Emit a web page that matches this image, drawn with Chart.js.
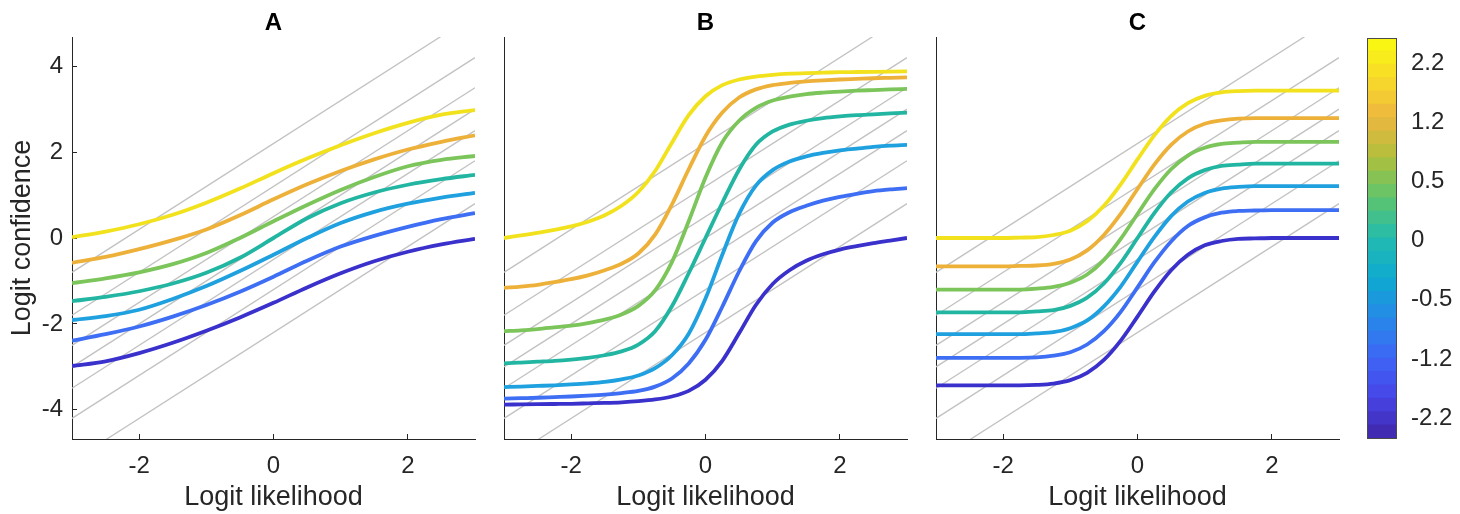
<!DOCTYPE html>
<html>
<head>
<meta charset="utf-8">
<script src="https://cdn.jsdelivr.net/npm/chart.js@4.4.1/dist/chart.umd.min.js"></script>
<style>
  body { margin: 0; background: #fff; }
  #wrap { position: relative; width: 1460px; height: 514px; overflow: hidden; }
  canvas { position: absolute; top: 0; }
</style>
</head>
<body>
<div id="wrap">
  <canvas id="panelA" width="490" height="514" style="left:0px"></canvas>
  <canvas id="panelB" width="430" height="514" style="left:490px"></canvas>
  <canvas id="panelC" width="425" height="514" style="left:920px"></canvas>
  <canvas id="colorbar" width="115" height="514" style="left:1345px"></canvas>
</div>
<script>
// ---------- data ----------
const xsA = [-3, -2.5, -2, -1.5, -1, -0.5, 0, 0.5, 1, 1.5, 2, 2.5, 3];
const xsBC = [-3, -2.75, -2.5, -2.25, -2, -1.75, -1.5, -1.25, -1, -0.75, -0.5, -0.25, 0,
              0.25, 0.5, 0.75, 1, 1.25, 1.5, 1.75, 2, 2.25, 2.5, 2.75, 3];
const biases = [2.2, 1.2, 0.5, 0, -0.5, -1.2, -2.2];
const xTicks = [-2, 0, 2];
const yTicks = [-4, -2, 0, 2, 4];
const panelTitles = ['A', 'B', 'C'];

// grey guide lines (y = x + bias), y at x = -3 and at x = 3
const guideStart = [-0.8, -1.8, -2.5, -3, -3.5, -4.2, -5.2];
const guideEnd = [5.2, 4.2, 3.5, 3, 2.5, 1.8, 0.8];

// panel A
const panelA_b22  = [0.02, 0.15, 0.32, 0.54, 0.82, 1.15, 1.51, 1.85, 2.16, 2.44, 2.68, 2.87, 2.98];
const panelA_b12  = [-0.58, -0.44, -0.26, -0.05, 0.20, 0.53, 0.90, 1.25, 1.56, 1.83, 2.06, 2.24, 2.39];
const panelA_b05  = [-1.05, -0.94, -0.80, -0.61, -0.35, 0.00, 0.39, 0.77, 1.12, 1.42, 1.67, 1.82, 1.91];
const panelA_b0   = [-1.47, -1.37, -1.24, -1.06, -0.81, -0.46, 0, 0.46, 0.81, 1.06, 1.24, 1.37, 1.47];
const panelA_bm05 = [-1.91, -1.82, -1.67, -1.42, -1.12, -0.77, -0.39, 0.00, 0.35, 0.61, 0.80, 0.94, 1.05];
const panelA_bm12 = [-2.39, -2.24, -2.06, -1.83, -1.56, -1.25, -0.90, -0.53, -0.20, 0.05, 0.26, 0.44, 0.58];
const panelA_bm22 = [-2.98, -2.87, -2.68, -2.44, -2.16, -1.85, -1.51, -1.15, -0.82, -0.54, -0.32, -0.15, -0.02];

// panel B
const panelB_b22  = [0.00, 0.06, 0.12, 0.19, 0.27, 0.38, 0.53, 0.75, 1.07, 1.56, 2.22, 2.86, 3.30,
                     3.56, 3.69, 3.76, 3.80, 3.825, 3.84, 3.85, 3.86, 3.865, 3.87, 3.875, 3.88];
const panelB_b12  = [-1.16, -1.13, -1.09, -1.03, -0.96, -0.87, -0.75, -0.60, -0.36, 0.08, 0.78, 1.60, 2.37,
                     2.92, 3.27, 3.46, 3.56, 3.61, 3.645, 3.67, 3.69, 3.705, 3.72, 3.73, 3.74];
const panelB_b05  = [-2.17, -2.15, -2.12, -2.08, -2.04, -1.98, -1.90, -1.78, -1.58, -1.22, -0.56, 0.39, 1.41,
                     2.23, 2.73, 3.03, 3.20, 3.29, 3.35, 3.385, 3.41, 3.43, 3.445, 3.46, 3.47];
const panelB_b0   = [-2.92, -2.90, -2.88, -2.86, -2.83, -2.79, -2.73, -2.64, -2.48, -2.17, -1.59, -0.82, 0,
                     0.82, 1.59, 2.17, 2.48, 2.64, 2.73, 2.79, 2.83, 2.86, 2.88, 2.90, 2.92];
const panelB_bm05 = [-3.47, -3.46, -3.445, -3.43, -3.41, -3.385, -3.35, -3.29, -3.20, -3.03, -2.73, -2.23, -1.41,
                     -0.39, 0.56, 1.22, 1.58, 1.78, 1.90, 1.98, 2.04, 2.08, 2.12, 2.15, 2.17];
const panelB_bm12 = [-3.74, -3.73, -3.72, -3.705, -3.69, -3.67, -3.645, -3.61, -3.56, -3.46, -3.27, -2.92, -2.37,
                     -1.60, -0.78, -0.08, 0.36, 0.60, 0.75, 0.87, 0.96, 1.03, 1.09, 1.13, 1.16];
const panelB_bm22 = [-3.88, -3.875, -3.87, -3.865, -3.86, -3.85, -3.84, -3.825, -3.80, -3.76, -3.69, -3.56, -3.30,
                     -2.86, -2.22, -1.56, -1.07, -0.75, -0.53, -0.38, -0.27, -0.19, -0.12, -0.06, 0.00];

// panel C
const panelC_b22  = [0, 0, 0, 0, 0, 0.01, 0.02, 0.07, 0.17, 0.39, 0.75, 1.25, 1.83,
                     2.39, 2.84, 3.14, 3.31, 3.39, 3.42, 3.43, 3.43, 3.43, 3.43, 3.43, 3.43];
const panelC_b12  = [-0.66, -0.66, -0.66, -0.66, -0.66, -0.65, -0.64, -0.60, -0.50, -0.29, 0.07, 0.56, 1.14,
                     1.71, 2.17, 2.48, 2.66, 2.74, 2.78, 2.79, 2.79, 2.79, 2.79, 2.79, 2.79];
const panelC_b05  = [-1.20, -1.20, -1.20, -1.20, -1.20, -1.20, -1.18, -1.14, -1.04, -0.85, -0.51, -0.02, 0.56,
                     1.13, 1.60, 1.92, 2.10, 2.19, 2.22, 2.24, 2.24, 2.24, 2.24, 2.24, 2.24];
const panelC_b0   = [-1.73, -1.73, -1.73, -1.73, -1.73, -1.73, -1.71, -1.68, -1.58, -1.39, -1.06, -0.58, 0,
                     0.58, 1.06, 1.39, 1.58, 1.68, 1.71, 1.73, 1.73, 1.73, 1.73, 1.73, 1.73];
const panelC_bm05 = [-2.24, -2.24, -2.24, -2.24, -2.24, -2.24, -2.22, -2.19, -2.10, -1.92, -1.59, -1.13, -0.55,
                     0.02, 0.51, 0.85, 1.05, 1.15, 1.19, 1.21, 1.21, 1.21, 1.21, 1.21, 1.21];
const panelC_bm12 = [-2.79, -2.79, -2.79, -2.79, -2.79, -2.79, -2.78, -2.74, -2.66, -2.48, -2.17, -1.72, -1.15,
                     -0.57, -0.08, 0.28, 0.48, 0.59, 0.63, 0.64, 0.65, 0.65, 0.65, 0.65, 0.65];
const panelC_bm22 = [-3.43, -3.43, -3.43, -3.43, -3.43, -3.43, -3.42, -3.39, -3.31, -3.14, -2.84, -2.39, -1.83,
                     -1.25, -0.75, -0.39, -0.17, -0.07, -0.02, -0.01, 0, 0, 0, 0, 0];

// ---------- styles ----------
const curveColors = ['#F2E21E', '#EDB13A', '#7BC55A', '#22B6A2', '#1FA0DF', '#3D6EF3', '#3A31CC'];
const guideColor = '#c2c2c2';
const axisColor = '#262626';
const parulaStops = ['#3E26A8', '#4744E6', '#3D66F5', '#2689E8', '#0DAAD0', '#23BBAE', '#5EC56C', '#B0BF3B', '#EDB73E', '#F8DC2A', '#F9FB0E'];

Chart.defaults.font.family = "'Liberation Sans', Arial, sans-serif";
Chart.defaults.color = axisColor;

const panelTitle = {
  id: 'panelTitle',
  afterDraw(chart, args, opts) {
    const { ctx, chartArea } = chart;
    ctx.save();
    ctx.font = "bold 24px 'Liberation Sans', Arial, sans-serif";
    ctx.fillStyle = '#000';
    ctx.textAlign = 'center';
    ctx.textBaseline = 'middle';
    ctx.fillText(opts.text, (chartArea.left + chartArea.right) / 2, 23);
    ctx.restore();
  }
};

function makePanel(id, title, xs, curves, opts) {
  const datasets = curves.map((vals, i) => ({
    data: vals.map((v, j) => ({ x: xs[j], y: v })),
    borderColor: curveColors[i],
    borderWidth: 3.8,
    pointRadius: 0,
    cubicInterpolationMode: 'monotone',
    order: 0
  }));
  guideStart.forEach((y0, i) => {
    datasets.push({
      data: [{ x: -3, y: y0 }, { x: 3, y: guideEnd[i] }],
      borderColor: guideColor,
      borderWidth: 1.3,
      pointRadius: 0,
      order: 1
    });
  });

  new Chart(document.getElementById(id), {
    type: 'line',
    data: { datasets },
    plugins: [panelTitle],
    options: {
      responsive: false,
      animation: false,
      layout: { padding: { left: 0, right: opts.right, top: 37, bottom: 0 } },
      plugins: { legend: { display: false }, tooltip: { enabled: false }, panelTitle: { text: title } },
      scales: {
        x: {
          type: 'linear', min: -3, max: 3,
          afterBuildTicks: s => { s.ticks = xTicks.map(v => ({ value: v })); },
          afterFit: s => { s.height = 75; },
          grid: { display: true, drawOnChartArea: false, drawTicks: true, tickLength: -5, tickColor: axisColor, tickWidth: 1 },
          border: { display: true, color: axisColor, width: 1 },
          ticks: { font: { size: 24 }, color: axisColor, padding: 18, maxRotation: 0 },
          title: { display: true, text: 'Logit likelihood', font: { size: 27 }, color: axisColor, padding: { top: 0, bottom: 0 } }
        },
        y: {
          type: 'linear', min: -4.68, max: 4.68,
          afterBuildTicks: s => { s.ticks = yTicks.map(v => ({ value: v })); },
          afterFit: s => { s.width = opts.yWidth; },
          grid: { display: opts.showY, drawOnChartArea: false, drawTicks: true, tickLength: -5, tickColor: axisColor, tickWidth: 1 },
          border: { display: true, color: axisColor, width: 1 },
          ticks: { display: opts.showY, font: { size: 24 }, color: axisColor, padding: 14 },
          title: { display: opts.showY, text: 'Logit confidence', font: { size: 27 }, color: axisColor, padding: { top: 6, bottom: 0 } }
        }
      }
    }
  });
}

makePanel('panelA', panelTitles[0], xsA,
  [panelA_b22, panelA_b12, panelA_b05, panelA_b0, panelA_bm05, panelA_bm12, panelA_bm22],
  { showY: true, yWidth: 72, right: 15 });
makePanel('panelB', panelTitles[1], xsBC,
  [panelB_b22, panelB_b12, panelB_b05, panelB_b0, panelB_bm05, panelB_bm12, panelB_bm22],
  { showY: false, yWidth: 14, right: 13 });
makePanel('panelC', panelTitles[2], xsBC,
  [panelC_b22, panelC_b12, panelC_b05, panelC_b0, panelC_bm05, panelC_bm12, panelC_bm22],
  { showY: false, yWidth: 16, right: 6 });

// ---------- colour bar ----------
function hexToRgb(h) {
  return [parseInt(h.slice(1, 3), 16), parseInt(h.slice(3, 5), 16), parseInt(h.slice(5, 7), 16)];
}
function parula(t) {
  const n = parulaStops.length - 1;
  const p = Math.min(Math.max(t, 0), 1) * n;
  const i = Math.min(Math.floor(p), n - 1);
  const f = p - i;
  const a = hexToRgb(parulaStops[i]), b = hexToRgb(parulaStops[i + 1]);
  const c = a.map((v, k) => Math.round(v + (b[k] - v) * f));
  return `rgb(${c[0]},${c[1]},${c[2]})`;
}

const cbMin = -0.35, cbMax = 6.42, cbBands = 30;
const cbLabels = biases.slice().reverse();
const cbDatasets = [];
const step = (cbMax - cbMin) / cbBands;
for (let i = 0; i < cbBands; i++) {
  const lo = cbMin + step * i;
  cbDatasets.push({
    data: [[lo, Math.min(lo + step * 1.05, cbMax)]],
    backgroundColor: parula((i + 0.5) / cbBands),
    borderWidth: 0,
    grouped: false,
    barPercentage: 1,
    categoryPercentage: 1
  });
}

const cbFrame = {
  id: 'cbFrame',
  afterDatasetsDraw(chart) {
    const { ctx, chartArea } = chart;
    ctx.save();
    ctx.strokeStyle = '#4a4a4a';
    ctx.lineWidth = 1;
    ctx.strokeRect(chartArea.left + 0.5, chartArea.top + 0.5, chartArea.right - chartArea.left - 1, chartArea.bottom - chartArea.top - 1);
    ctx.restore();
  }
};

new Chart(document.getElementById('colorbar'), {
  type: 'bar',
  data: { labels: [''], datasets: cbDatasets },
  plugins: [cbFrame],
  options: {
    responsive: false,
    animation: false,
    layout: { padding: { left: 22, right: 0, top: 38, bottom: 75 } },
    plugins: { legend: { display: false }, tooltip: { enabled: false } },
    scales: {
      x: { display: false },
      y: {
        position: 'right', min: cbMin, max: cbMax,
        afterBuildTicks: s => { s.ticks = cbLabels.map((v, i) => ({ value: i })); },
        afterFit: s => { s.width = 63; },
        grid: { display: false },
        border: { display: false },
        ticks: { font: { size: 24 }, color: axisColor, padding: 6, callback: (v) => String(cbLabels[v]) }
      }
    }
  }
});
</script>
</body>
</html>
